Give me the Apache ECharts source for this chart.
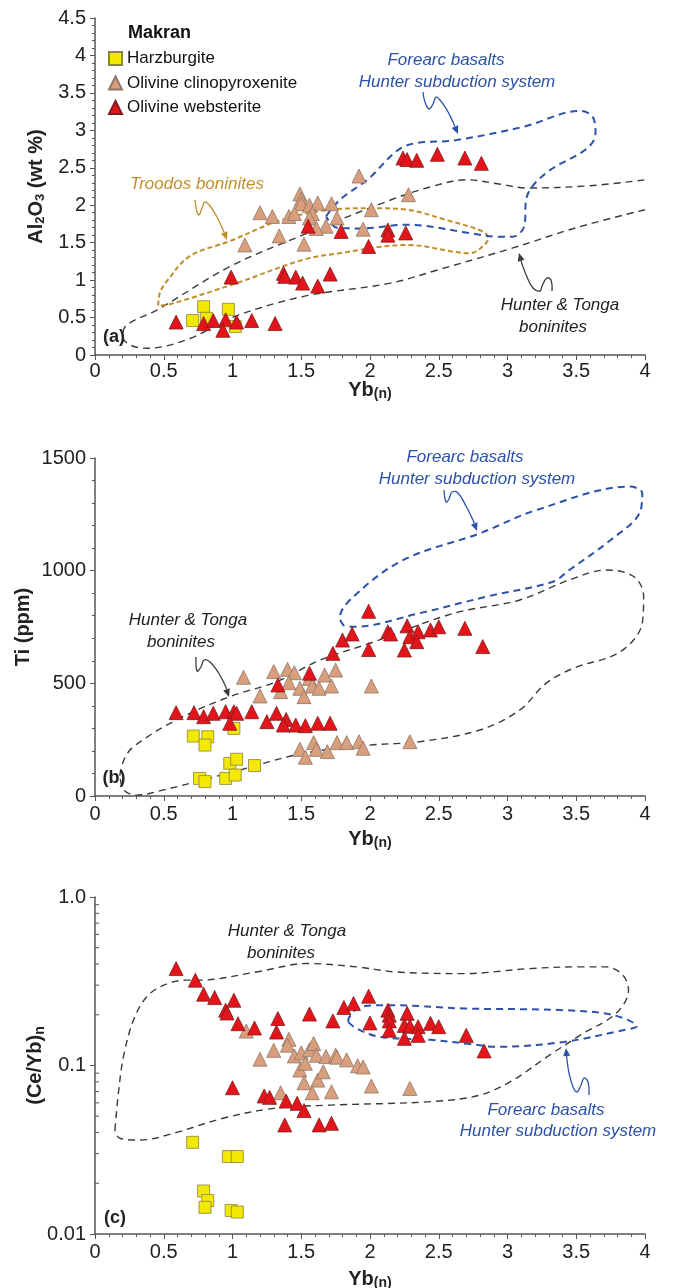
<!DOCTYPE html>
<html>
<head>
<meta charset="utf-8">
<script src="https://cdn.jsdelivr.net/npm/echarts@6.0.0/dist/echarts.min.js"></script>
<style>
  html, body { margin: 0; padding: 0; background: #fff; }
  #chart { width: 676px; height: 1288px; }
</style>
</head>
<body>
<div id="chart"></div>
<script>
// ---- data ----
const xTicks = [0, 0.5, 1, 1.5, 2, 2.5, 3, 3.5, 4];
const logMinor = [0.02, 0.03, 0.04, 0.05, 0.06, 0.07, 0.08, 0.09, 0.2, 0.3, 0.4, 0.5, 0.6, 0.7, 0.8, 0.9];

// (a) Al2O3 vs Yb(n)
const harzA = [[0.79, 0.645], [0.71, 0.46], [0.81, 0.49], [0.97, 0.61], [1.02, 0.38]];
const clinoA = [[1.92, 2.39], [1.49, 2.15], [1.50, 2.08], [1.50, 2.02], [1.20, 1.90], [1.29, 1.85], [1.41, 1.85], [1.45, 1.89],
  [1.56, 2.00], [1.62, 2.03], [1.58, 1.89], [1.56, 1.83], [1.72, 2.02], [1.76, 1.83], [1.68, 1.72], [1.61, 1.69],
  [2.01, 1.94], [1.95, 1.68], [1.34, 1.59], [1.52, 1.48], [1.09, 1.47], [2.28, 2.14]];
const webA = [[0.59, 0.44], [0.79, 0.42], [0.86, 0.46], [0.95, 0.47], [0.93, 0.33], [1.03, 0.44], [1.14, 0.46], [1.31, 0.42],
  [0.99, 1.04], [1.37, 1.09], [1.38, 1.05], [1.46, 1.04], [1.51, 0.96], [1.62, 0.92], [1.71, 1.08], [1.55, 1.72],
  [1.79, 1.65], [1.99, 1.45], [2.13, 1.67], [2.13, 1.60], [2.26, 1.63], [2.24, 2.63], [2.27, 2.61], [2.34, 2.60],
  [2.49, 2.68], [2.69, 2.63], [2.81, 2.56]];
const hunterA = [[4.0, 1.94], [3.5, 1.70], [3.04, 1.43], [2.5, 1.14], [2.15, 0.96], [1.51, 0.78], [0.98, 0.49], [0.69, 0.22],
  [0.38, 0.09], [0.26, 0.13], [0.2, 0.25], [0.23, 0.40], [0.45, 0.60], [0.98, 1.18], [1.51, 1.60], [2.15, 2.07],
  [2.45, 2.25], [2.70, 2.34], [2.95, 2.28], [3.14, 2.23], [3.6, 2.26], [4.0, 2.34]];
const troodosA = [[0.46, 0.66], [0.47, 0.82], [0.52, 0.98], [0.69, 1.32], [0.98, 1.52], [1.32, 1.78], [1.66, 1.93], [2.02, 1.96],
  [2.27, 1.94], [2.56, 1.80], [2.82, 1.65], [2.86, 1.56], [2.80, 1.42], [2.73, 1.36], [2.27, 1.47], [1.78, 1.36],
  [1.51, 1.27], [1.03, 0.96], [0.55, 0.68], [0.46, 0.66]];
const forearcA = [[1.68, 1.85], [1.78, 2.07], [1.98, 2.34], [2.27, 2.80], [2.63, 2.87], [3.12, 3.05], [3.53, 3.26], [3.62, 3.18],
  [3.64, 2.96], [3.58, 2.76], [3.28, 2.43], [3.14, 2.11], [3.12, 1.71], [3.04, 1.58], [2.92, 1.58], [2.75, 1.62],
  [2.27, 1.74], [1.93, 1.69], [1.76, 1.70], [1.68, 1.85]];

// (b) Ti vs Yb(n)
const harzB = [[0.715, 266], [0.82, 263], [0.80, 226], [1.01, 300], [0.76, 78], [0.80, 64], [0.95, 78], [0.98, 145],
  [1.03, 163], [1.02, 93], [1.16, 135]];
const clinoB = [[1.08, 527], [1.20, 444], [1.30, 552], [1.40, 562], [1.45, 547], [1.41, 503], [1.35, 463], [1.49, 478],
  [1.52, 441], [1.56, 522], [1.58, 488], [1.63, 478], [1.67, 537], [1.75, 559], [1.72, 488], [2.01, 488], [1.49, 207],
  [1.53, 172], [1.59, 237], [1.61, 207], [1.69, 197], [1.76, 237], [1.83, 237], [1.92, 241], [1.95, 212], [2.29, 241]];
const webB = [[0.59, 370], [0.72, 370], [0.79, 352], [0.86, 367], [0.95, 374], [1.01, 374], [1.03, 367], [0.98, 323],
  [1.14, 374], [1.25, 330], [1.32, 367], [1.39, 340], [1.37, 315], [1.46, 315], [1.53, 312], [1.62, 323], [1.71, 323],
  [1.33, 493], [1.56, 545], [1.73, 633], [1.80, 692], [1.87, 719], [1.99, 820], [1.99, 650], [2.13, 729], [2.15, 719],
  [2.27, 755], [2.29, 707], [2.35, 729], [2.34, 685], [2.25, 648], [2.44, 737], [2.50, 751], [2.69, 744], [2.82, 663]];
const hunterB = [[0.18, 90], [0.21, 160], [0.28, 219], [0.59, 337], [0.98, 441], [1.32, 507], [1.64, 604], [2.0, 678],
  [2.61, 811], [3.09, 870], [3.45, 959], [3.72, 1003], [3.92, 973], [3.99, 885], [3.98, 767], [3.82, 640], [3.48, 567],
  [3.28, 500], [3.09, 382], [2.80, 293], [2.36, 241], [2.0, 226], [1.52, 190], [1.01, 108], [0.50, 27], [0.30, 4],
  [0.21, 27], [0.18, 90]];
const forearcB = [[1.81, 755], [1.78, 790], [1.88, 885], [2.24, 1047], [2.80, 1166], [3.21, 1269], [3.89, 1373], [3.98, 1343],
  [3.96, 1255], [3.75, 1136], [3.45, 1003], [3.33, 951], [2.85, 885], [2.36, 811], [1.88, 751], [1.81, 755]];

// (c) (Ce/Yb)n vs Yb(n)
const harzC = [[0.71, 0.035], [0.97, 0.0288], [1.035, 0.0288], [0.79, 0.018], [0.82, 0.0158], [0.80, 0.0144], [0.99, 0.0138],
  [1.035, 0.0135]];
const clinoC = [[1.10, 0.160], [1.20, 0.109], [1.30, 0.123], [1.41, 0.143], [1.40, 0.132], [1.45, 0.114], [1.50, 0.119],
  [1.49, 0.094], [1.53, 0.103], [1.56, 0.124], [1.59, 0.135], [1.61, 0.115], [1.68, 0.113], [1.75, 0.115], [1.76, 0.112],
  [1.83, 0.108], [1.91, 0.0996], [1.95, 0.098], [1.52, 0.0789], [1.62, 0.0819], [1.66, 0.0918], [1.58, 0.0689],
  [1.72, 0.0698], [1.35, 0.0689], [2.01, 0.0755], [2.29, 0.0731]];
const webC = [[0.59, 0.376], [0.73, 0.321], [0.79, 0.265], [0.87, 0.253], [1.01, 0.244], [0.95, 0.213], [0.96, 0.205],
  [1.04, 0.177], [1.16, 0.167], [1.33, 0.190], [1.32, 0.158], [1.56, 0.202], [1.73, 0.184], [1.81, 0.221], [1.88, 0.233],
  [1.99, 0.258], [2.0, 0.179], [1.00, 0.0738], [1.23, 0.0659], [1.27, 0.0647], [1.39, 0.0615], [1.47, 0.0596],
  [1.52, 0.054], [1.38, 0.0444], [1.63, 0.0444], [1.72, 0.0454], [2.13, 0.213], [2.14, 0.199], [2.14, 0.184],
  [2.14, 0.162], [2.27, 0.204], [2.25, 0.173], [2.29, 0.171], [2.25, 0.145], [2.35, 0.170], [2.35, 0.151],
  [2.44, 0.178], [2.50, 0.170], [2.70, 0.151], [2.83, 0.122]];
const hunterC = [[0.145, 0.0414], [0.17, 0.0684], [0.207, 0.113], [0.28, 0.186], [0.375, 0.255], [0.50, 0.300], [0.665, 0.321],
  [0.76, 0.321], [1.175, 0.359], [1.54, 0.403], [1.90, 0.385], [2.19, 0.359], [2.68, 0.351], [3.16, 0.376], [3.53, 0.385],
  [3.72, 0.385], [3.84, 0.343], [3.88, 0.280], [3.79, 0.204], [3.55, 0.155], [3.29, 0.113], [3.04, 0.0819], [2.80, 0.0667],
  [2.44, 0.061], [1.71, 0.0582], [1.30, 0.0557], [0.93, 0.0486], [0.57, 0.0396], [0.33, 0.0361], [0.18, 0.037],
  [0.145, 0.0414]];
const forearcC = [[1.84, 0.182], [1.85, 0.194], [1.93, 0.223], [2.15, 0.228], [2.68, 0.218], [3.41, 0.213], [3.77, 0.199],
  [3.94, 0.171], [3.84, 0.162], [3.41, 0.138], [2.92, 0.129], [2.73, 0.134], [2.44, 0.142], [2.07, 0.148], [1.90, 0.166],
  [1.84, 0.182]];

// ---- chart ----
var dom = document.getElementById('chart');
var myChart = echarts.init(dom, null, { renderer: 'canvas' });

const FONT = "'Liberation Sans', Arial, sans-serif";
const AXIS = '#555';
const BLUE = '#2c51a8', GOLD = '#c28d2a', DARK = '#3a3a3a';

const names = ['Harzburgite', 'Olivine clinopyroxenite', 'Olivine websterite'];
const looks = [
  { symbol: 'rect', size: 12, color: '#f3e800', border: '#8a8440' },
  { symbol: 'triangle', size: 14, color: '#d99f7c', border: '#8e7567' },
  { symbol: 'triangle', size: 14, color: '#e3151b', border: '#7d1d1d' }
];

function xAx(i, margin, gap) {
  return {
    type: 'value', gridIndex: i, min: 0, max: 4, interval: 0.5,
    name: '{b|Yb}{s|(n)}', nameLocation: 'middle', nameGap: gap, nameMoveOverlap: false,
    nameTextStyle: { rich: {
      b: { fontSize: 20, fontWeight: 'bold', fontFamily: FONT, color: '#222' },
      s: { fontSize: 14, fontWeight: 'bold', fontFamily: FONT, color: '#222', padding: [8, 0, 0, 0] }
    } },
    axisLine: { show: true, onZero: false, lineStyle: { color: AXIS, width: 1.5 } },
    axisTick: { show: true, length: 5, lineStyle: { color: AXIS } },
    minorTick: { show: true, splitNumber: 5, length: 3, lineStyle: { color: AXIS } },
    axisLabel: { fontSize: 20, fontFamily: FONT, color: '#222', margin: margin },
    splitLine: { show: false }
  };
}

function yCommon(extra) {
  return Object.assign({
    nameLocation: 'middle', nameRotate: 90, nameMoveOverlap: false,
    axisLine: { show: true, onZero: false, lineStyle: { color: AXIS, width: 1.5 } },
    axisTick: { show: true, length: 5, lineStyle: { color: AXIS } },
    axisLabel: { fontSize: 20, fontFamily: FONT, color: '#222', margin: 9,
      formatter: function (v) { return String(v); } },
    splitLine: { show: false }
  }, extra);
}

function env(data, i, color, width, dash) {
  return {
    type: 'line', xAxisIndex: i, yAxisIndex: i, data: data, smooth: 0.35,
    symbol: 'none', silent: true, z: 1,
    lineStyle: { color: color, width: width, type: dash }
  };
}

function pts(k, data, i) {
  const l = looks[k];
  return {
    type: 'scatter', name: names[k], xAxisIndex: i, yAxisIndex: i, data: data,
    symbol: l.symbol, symbolSize: l.size, z: 5,
    itemStyle: { color: l.color, borderColor: l.border, borderWidth: 0.8, opacity: 1 }
  };
}

function txt(s, x, y, color, font) {
  return { type: 'text', z: 20, style: {
    text: s, x: x, y: y, fill: color, font: font,
    align: 'center', verticalAlign: 'middle', textAlign: 'center', textVerticalAlign: 'middle'
  } };
}

function arrow(p, color) {
  const n = p.length;
  const a = Math.atan2(p[n - 1][1] - p[n - 2][1], p[n - 1][0] - p[n - 2][0]);
  const L = 8, W = 3.5;
  const bx = p[n - 1][0] - L * Math.cos(a), by = p[n - 1][1] - L * Math.sin(a);
  const line = p.slice(0, n - 1).concat([[bx, by]]);
  return [
    { type: 'polyline', z: 20, shape: { points: line, smooth: 0.4 }, style: { stroke: color, lineWidth: 1.3, fill: null } },
    { type: 'polygon', z: 20, shape: { points: [p[n - 1], [bx + W * Math.sin(a), by - W * Math.cos(a)], [bx - W * Math.sin(a), by + W * Math.cos(a)]] },
      style: { fill: color } }
  ];
}

const IT = 'italic 17px ' + FONT;
const BD = 'bold 18px ' + FONT;

const graphics = [
  { type: 'text', z: 20, style: { text: 'Makran', x: 128, y: 33, fill: '#111', font: 'bold 18px ' + FONT, align: 'left', verticalAlign: 'middle', textAlign: 'left', textVerticalAlign: 'middle' } },
  txt('Forearc basalts', 446, 60, BLUE, IT),
  txt('Hunter subduction system', 457, 82, BLUE, IT),
  txt('Troodos boninites', 197, 184, GOLD, IT),
  txt('Hunter & Tonga', 560, 305, '#222', IT),
  txt('boninites', 553, 327, '#222', IT),
  txt('(a)', 114, 337, '#222', BD),
  txt('Forearc basalts', 465, 457, BLUE, IT),
  txt('Hunter subduction system', 477, 479, BLUE, IT),
  txt('Hunter & Tonga', 188, 620, '#222', IT),
  txt('boninites', 181, 642, '#222', IT),
  txt('(b)', 114, 778, '#222', BD),
  txt('Hunter & Tonga', 287, 931, '#222', IT),
  txt('boninites', 281, 953, '#222', IT),
  txt('Forearc basalts', 546, 1110, BLUE, IT),
  txt('Hunter subduction system', 558, 1131, BLUE, IT),
  txt('(c)', 115, 1218, '#222', BD)
].concat(
  arrow([[195, 200], [197, 212], [199, 215], [202, 208], [205, 202], [210, 206], [217, 217], [224, 232], [227, 240]], GOLD),
  arrow([[423, 92], [425, 102], [429, 109], [433, 104], [436, 97], [440, 100], [447, 110], [453, 122], [458, 134]], BLUE),
  arrow([[552, 291], [551, 280], [547, 278], [542, 286], [540, 291], [533, 288], [527, 277], [522, 264], [519, 253]], DARK),
  arrow([[444, 490], [446, 502], [449, 499], [452, 492], [458, 493], [466, 506], [473, 520], [477, 531]], BLUE),
  arrow([[196, 657], [197, 671], [201, 667], [204, 660], [210, 662], [218, 672], [225, 685], [229, 697]], DARK),
  arrow([[589, 1095], [588, 1082], [584, 1078], [581, 1085], [577, 1092], [573, 1087], [569, 1073], [567, 1060], [566, 1048]], BLUE)
);

const option = {
  backgroundColor: '#fff',
  animation: false,
  textStyle: { fontFamily: FONT },
  legend: {
    data: names, orient: 'vertical', left: 108, top: 50, padding: 0,
    itemWidth: 13, itemHeight: 13, itemGap: 7.5,
    textStyle: { fontSize: 17, color: '#111', fontFamily: FONT },
    selectedMode: false
  },
  grid: [
    { left: 95, top: 18, width: 550, height: 337, outerBoundsMode: 'none' },
    { left: 95, top: 458, width: 550, height: 338, outerBoundsMode: 'none' },
    { left: 95, top: 897, width: 550, height: 337, outerBoundsMode: 'none' }
  ],
  xAxis: [xAx(0, 6, 24), xAx(1, 8, 32), xAx(2, 8, 34)],
  yAxis: [
    yCommon({
      type: 'value', gridIndex: 0, min: 0, max: 4.5, interval: 0.5,
      minorTick: { show: true, splitNumber: 5, length: 3, lineStyle: { color: AXIS } },
      name: '{b|Al}{s|2}{b|O}{s|3}{b| (wt %)}', nameGap: 48,
      nameTextStyle: { rich: {
        b: { fontSize: 20, fontWeight: 'bold', fontFamily: FONT, color: '#222' },
        s: { fontSize: 13, fontWeight: 'bold', fontFamily: FONT, color: '#222', padding: [9, 0, 0, 0] }
      } }
    }),
    yCommon({
      type: 'value', gridIndex: 1, min: 0, max: 1500, interval: 500,
      minorTick: { show: true, splitNumber: 5, length: 3, lineStyle: { color: AXIS } },
      name: 'Ti (ppm)', nameGap: 62,
      nameTextStyle: { fontSize: 20, fontWeight: 'bold', fontFamily: FONT, color: '#222' }
    }),
    yCommon({
      type: 'log', gridIndex: 2, min: 0.01, max: 1, logBase: 10,
      axisLabel: { fontSize: 20, fontFamily: FONT, color: '#222', margin: 9,
        formatter: function (v) { return v >= 0.999 ? '1.0' : String(+v.toPrecision(2)); } },
      name: '{b|(Ce/Yb)}{s|n}', nameGap: 48,
      nameTextStyle: { rich: {
        b: { fontSize: 20, fontWeight: 'bold', fontFamily: FONT, color: '#222' },
        s: { fontSize: 14, fontWeight: 'bold', fontFamily: FONT, color: '#222', padding: [9, 0, 0, 0] }
      } }
    })
  ],
  series: [
    env(hunterA, 0, DARK, 1.4, [7, 5]),
    env(troodosA, 0, GOLD, 2, [5, 3]),
    env(forearcA, 0, BLUE, 2, [7, 5]),
    pts(0, harzA, 0), pts(1, clinoA, 0), pts(2, webA, 0),
    env(hunterB, 1, DARK, 1.4, [7, 5]),
    env(forearcB, 1, BLUE, 2, [7, 5]),
    pts(0, harzB, 1), pts(1, clinoB, 1), pts(2, webB, 1),
    env(hunterC, 2, DARK, 1.4, [7, 5]),
    env(forearcC, 2, BLUE, 2, [7, 5]),
    pts(0, harzC, 2), pts(1, clinoC, 2), pts(2, webC, 2),
    {
      // log minor ticks on the (Ce/Yb)n axis
      type: 'custom', xAxisIndex: 2, yAxisIndex: 2, silent: true, z: 3,
      data: logMinor.map(function (v) { return [0, v]; }),
      renderItem: function (params, api) {
        const p = api.coord([0, api.value(1)]);
        return { type: 'line', shape: { x1: p[0], y1: p[1], x2: p[0] + 4, y2: p[1] },
          style: { stroke: AXIS, lineWidth: 1 } };
      }
    }
  ],
  graphic: graphics
};
myChart.setOption(option);
</script>
</body>
</html>
